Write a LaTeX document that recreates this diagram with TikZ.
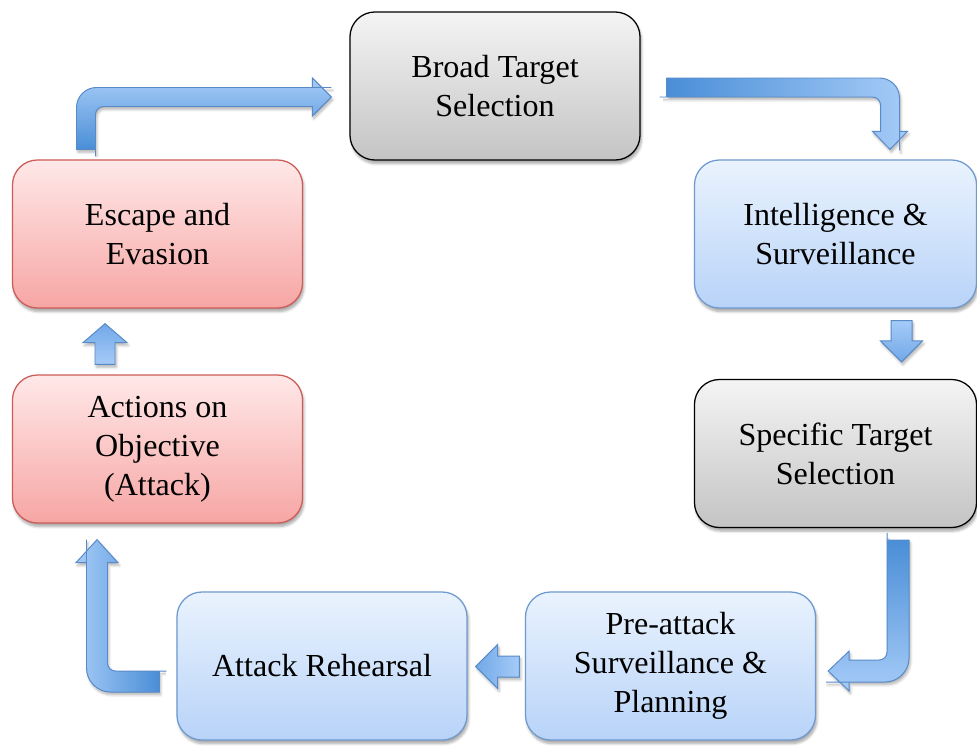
\documentclass[tikz,border=0pt]{standalone}
\usepackage{fontspec}
\setmainfont{Liberation Serif}
\usetikzlibrary{calc,shadows.blur}
\definecolor{grayhigh}{RGB}{244,244,244}
\definecolor{graylow}{RGB}{196,196,196}
\definecolor{bluehigh}{RGB}{234,243,254}
\definecolor{bluelow}{RGB}{184,211,248}
\definecolor{blueline}{RGB}{110,154,208}
\definecolor{redhigh}{RGB}{255,232,232}
\definecolor{redlow}{RGB}{246,166,164}
\definecolor{redline}{RGB}{205,91,87}
\definecolor{arrowlight}{RGB}{165,203,247}
\definecolor{arrowmid}{RGB}{114,168,232}
\definecolor{arrowdark}{RGB}{74,142,215}
\definecolor{arrowline}{RGB}{88,138,200}

\tikzset{
  stage/.style={rounded corners=0.625cm, minimum width=7.25cm, minimum height=3.7cm,
    align=center, font=\fontsize{22.8}{27.6}\selectfont, line width=0.9pt,
    blur shadow={shadow xshift=1pt, shadow yshift=-2.5pt, shadow blur steps=6, shadow opacity=35}},
  graybox/.style={stage, draw=black, top color=grayhigh, bottom color=graylow},
  bluebox/.style={stage, draw=blueline, top color=bluehigh, bottom color=bluelow},
  redbox/.style={stage, draw=redline, top color=redhigh, bottom color=redlow},
  flowarrow/.style={draw=arrowline, line width=0.7pt, line join=miter,
    blur shadow={shadow xshift=1pt, shadow yshift=-2pt, shadow blur steps=5, shadow opacity=30}}
}

\begin{document}
\begin{tikzpicture}[x=0.025cm, y=-0.025cm]
\useasboundingbox (0,0) rectangle (977,745);

% stages of the cycle
\node[graybox] (broad) at (495,86) {Broad Target\\Selection};
\node[bluebox, minimum width=7.05cm] (intel) at (835.5,234) {Intelligence \&\\Surveillance};
\node[graybox, minimum width=7.05cm] (spec) at (835.5,453.5) {Specific Target\\Selection};
\node[bluebox] (pre) at (670.5,666) {Pre-attack\\Surveillance \&\\Planning};
\node[bluebox] (reh) at (322,666) {Attack Rehearsal};
\node[redbox] (act) at (157.5,449) {Actions on\\Objective\\(Attack)};
\node[redbox] (esc) at (157.5,234) {Escape and\\Evasion};

% ends of the arrows
\coordinate (escTail) at ($(esc.north)+(-71.5,-10)$);
\coordinate (broadTip) at ($(broad.west)+(-18,11)$);
\coordinate (broadTail) at ($(broad.east)+(26,1.5)$);
\coordinate (intelTip) at ($(intel.north)+(54.5,-10)$);
\coordinate (intelTail) at ($(intel.south)+(66,12)$);
\coordinate (specTip) at ($(spec.north)+(66,-17)$);
\coordinate (specTail) at ($(spec.south)+(62.5,12)$);
\coordinate (preTip) at ($(pre.east)+(12,5)$);
\coordinate (preTail) at ($(pre.west)+(-5.5,0.5)$);
\coordinate (rehTip) at ($(reh.east)+(8,0.5)$);
\coordinate (rehTail) at ($(reh.west)+(-17,15.5)$);
\coordinate (actTip) at ($(act.south)+(-60.5,16)$);
\coordinate (actTail) at ($(act.north)+(-52.5,-10)$);
\coordinate (escTip) at ($(esc.south)+(-52.5,15)$);

% escape -> broad target
\draw[flowarrow, bottom color=arrowdark, top color=arrowlight]
  ($(escTail)+(-9.5,0)$) [rounded corners=0.5cm] |- ($(broadTip)+(-20,-9.5)$)
  [sharp corners] -- ++(1,0) -- ++(0,-9.5) -- (broadTip) -- ++(-19,19) -- ++(0,-9.5) -- ++(-1,0)
  [rounded corners=0.2cm] -| ($(escTail)+(9.5,-1)$) [sharp corners] -- ++(0,1) -- cycle;

% broad target -> intelligence
\draw[flowarrow, left color=arrowdark, right color=arrowlight]
  ($(broadTail)+(0,-9.5)$) [rounded corners=0.5cm] -| ($(intelTip)+(9.5,-19)$)
  [sharp corners] -- ++(0,1) -- ++(8,0) -- (intelTip) -- ++(-17.5,-18) -- ++(8,0) -- ++(0,-1)
  [rounded corners=0.2cm] |- ($(broadTail)+(1,9.5)$) [sharp corners] -- ++(-1,0) -- cycle;

% intelligence -> specific target
\draw[flowarrow, top color=arrowlight, bottom color=arrowmid]
  ($(intelTail)+(-10.5,0)$) -- ($(specTip)+(-10.5,-21)$) -- ++(-10.5,0) -- (specTip)
  -- ++(21,-21) -- ++(-10.5,0) -- ($(intelTail)+(10.5,0)$) -- cycle;

% specific target -> pre-attack
\draw[flowarrow, top color=arrowdark, bottom color=arrowlight]
  ($(specTail)+(11,0)$) [rounded corners=0.6cm] |- ($(preTip)+(22,11)$)
  [sharp corners] -- ++(-1,0) -- ++(0,9) -- (preTip) -- ++(21,-20) -- ++(0,9) -- ++(1,0)
  [rounded corners=0.2cm] -| ($(specTail)+(-11,1)$) [sharp corners] -- ++(0,-1) -- cycle;

% pre-attack -> rehearsal
\draw[flowarrow, left color=arrowmid, right color=arrowlight]
  ($(preTail)+(0,-10.5)$) -- ($(rehTip)+(22,-10.5)$) -- ++(0,-11.5) -- (rehTip)
  -- ++(22,22) -- ++(0,-11.5) -- ($(preTail)+(0,10.5)$) -- cycle;

% rehearsal -> actions
\draw[flowarrow, right color=arrowdark, left color=arrowlight]
  ($(rehTail)+(0,10.5)$) [rounded corners=0.6cm] -| ($(actTip)+(-10.5,24)$)
  [sharp corners] -- ++(0,-1) -- ++(-10.5,0) -- (actTip) -- ++(21,23) -- ++(-10.5,0) -- ++(0,1)
  [rounded corners=0.2cm] |- ($(rehTail)+(-1,-10.5)$) [sharp corners] -- ++(1,0) -- cycle;

% actions -> escape
\draw[flowarrow, top color=arrowmid, bottom color=arrowlight]
  ($(actTail)+(-10,0)$) -- ($(escTip)+(-10,19)$) -- ++(-12,0) -- (escTip)
  -- ++(22,19) -- ++(-12,0) -- ($(actTail)+(10,0)$) -- cycle;
\end{tikzpicture}
\end{document}
